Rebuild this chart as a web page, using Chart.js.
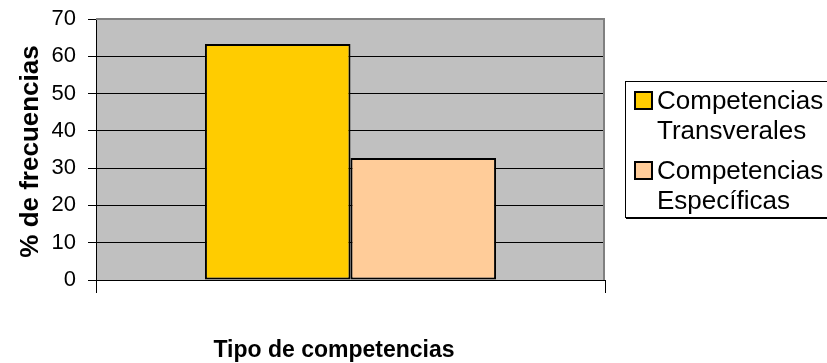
<!DOCTYPE html>
<html>
<head>
<meta charset="utf-8">
<script src="https://cdn.jsdelivr.net/npm/chart.js@4"></script>
<style>
  body { margin: 0; background: #fff; }
</style>
</head>
<body>
<canvas id="competencias" width="827" height="363"></canvas>
<script>
'use strict';

// data
const categories = ['Tipo de competencias'];
const seriesNames = ['Competencias Transverales', 'Competencias Específicas'];
const seriesValues = [63.3, 32.7];
const yTicks = [0, 10, 20, 30, 40, 50, 60, 70];

const barColors = ['#FFCC00', '#FFCC99'];
const fontFamily = "'Liberation Sans', Arial, sans-serif";

// gray plot background plus the gray right edge
const plotArea = {
  id: 'plotArea',
  beforeDraw(chart) {
    const { ctx, chartArea: a } = chart;
    ctx.save();
    ctx.fillStyle = '#C0C0C0';
    ctx.fillRect(a.left, a.top, a.right - a.left, a.bottom - a.top);
    ctx.restore();
  },
  afterDatasetsDraw(chart) {
    const { ctx, chartArea: a } = chart;
    ctx.save();
    ctx.strokeStyle = '#808080';
    ctx.lineWidth = 2;
    ctx.beginPath();
    ctx.moveTo(a.left, a.top);
    ctx.lineTo(a.right - 1, a.top);
    ctx.lineTo(a.right - 1, a.bottom);
    ctx.stroke();
    ctx.restore();
  }
};

// axis titles
const axisTitles = {
  id: 'axisTitles',
  afterDraw(chart) {
    const { ctx, chartArea: a } = chart;
    ctx.save();
    ctx.fillStyle = '#000';
    ctx.textAlign = 'center';
    ctx.textBaseline = 'alphabetic';

    ctx.font = 'bold 23px ' + fontFamily;
    ctx.fillText(categories[0], 334, 357);

    ctx.translate(38, (a.top + a.bottom) / 2 + 2);
    ctx.rotate(-Math.PI / 2);
    ctx.font = 'bold 26px ' + fontFamily;
    ctx.fillText('% de frecuencias', 0, 0);
    ctx.restore();
  }
};

// boxed legend with two-line labels
const boxLegend = {
  id: 'boxLegend',
  afterDraw(chart) {
    const { ctx } = chart;
    ctx.save();
    ctx.fillStyle = '#fff';
    ctx.fillRect(625, 81, 210, 137);
    ctx.strokeStyle = '#000';
    ctx.lineWidth = 1;
    ctx.strokeRect(625.5, 81.5, 210, 136);
    ctx.lineWidth = 2;
    ctx.beginPath();
    ctx.moveTo(626, 218);
    ctx.lineTo(827, 218);
    ctx.stroke();

    ctx.font = '26px ' + fontFamily;
    ctx.textAlign = 'left';
    ctx.textBaseline = 'alphabetic';
    chart.data.datasets.forEach((ds, i) => {
      const top = 92 + i * 70;
      ctx.fillStyle = ds.backgroundColor;
      ctx.fillRect(635, top, 17, 17);
      ctx.lineWidth = 2;
      ctx.strokeStyle = '#000';
      ctx.strokeRect(635, top, 17, 17);
      ctx.fillStyle = '#000';
      ds.label.split(' ').forEach((word, j) => {
        ctx.fillText(word, 657, top + 17 + j * 30);
      });
    });
    ctx.restore();
  }
};

const ctx = document.getElementById('competencias');

new Chart(ctx, {
  type: 'bar',
  data: {
    labels: categories,
    datasets: seriesNames.map((name, i) => ({
      label: name,
      data: [seriesValues[i]],
      backgroundColor: barColors[i],
      borderColor: '#000',
      borderWidth: 2,
      borderSkipped: false,
      categoryPercentage: 0.572,
      barPercentage: 1
    }))
  },
  options: {
    responsive: false,
    animation: false,
    events: [],
    layout: {
      padding: { top: 19, right: 222, left: 0, bottom: 0 }
    },
    plugins: {
      legend: { display: false },
      tooltip: { enabled: false }
    },
    scales: {
      x: {
        offset: true,
        ticks: { display: false },
        grid: {
          offset: true,
          drawOnChartArea: false,
          drawTicks: true,
          tickLength: 13,
          color: '#000'
        },
        border: { color: '#000', width: 1 },
        afterFit(scale) { scale.height = 83; }
      },
      y: {
        min: yTicks[0],
        max: yTicks[yTicks.length - 1],
        afterBuildTicks(scale) {
          scale.ticks = yTicks.map(v => ({ value: v }));
        },
        ticks: {
          color: '#000',
          padding: 12,
          font: { family: fontFamily, size: 22 }
        },
        grid: {
          color: c => (c.tick && c.tick.value === 70 ? '#808080' : '#000'),
          tickColor: '#000',
          tickLength: 8,
          lineWidth: 1
        },
        border: { color: '#000', width: 1 },
        afterFit(scale) {
          // fixed axis width, no extra room reserved for the end labels
          scale.width = 96;
          scale.paddingTop = 0;
          scale.paddingBottom = 0;
        }
      }
    }
  },
  plugins: [plotArea, axisTitles, boxLegend]
});
</script>
</body>
</html>
